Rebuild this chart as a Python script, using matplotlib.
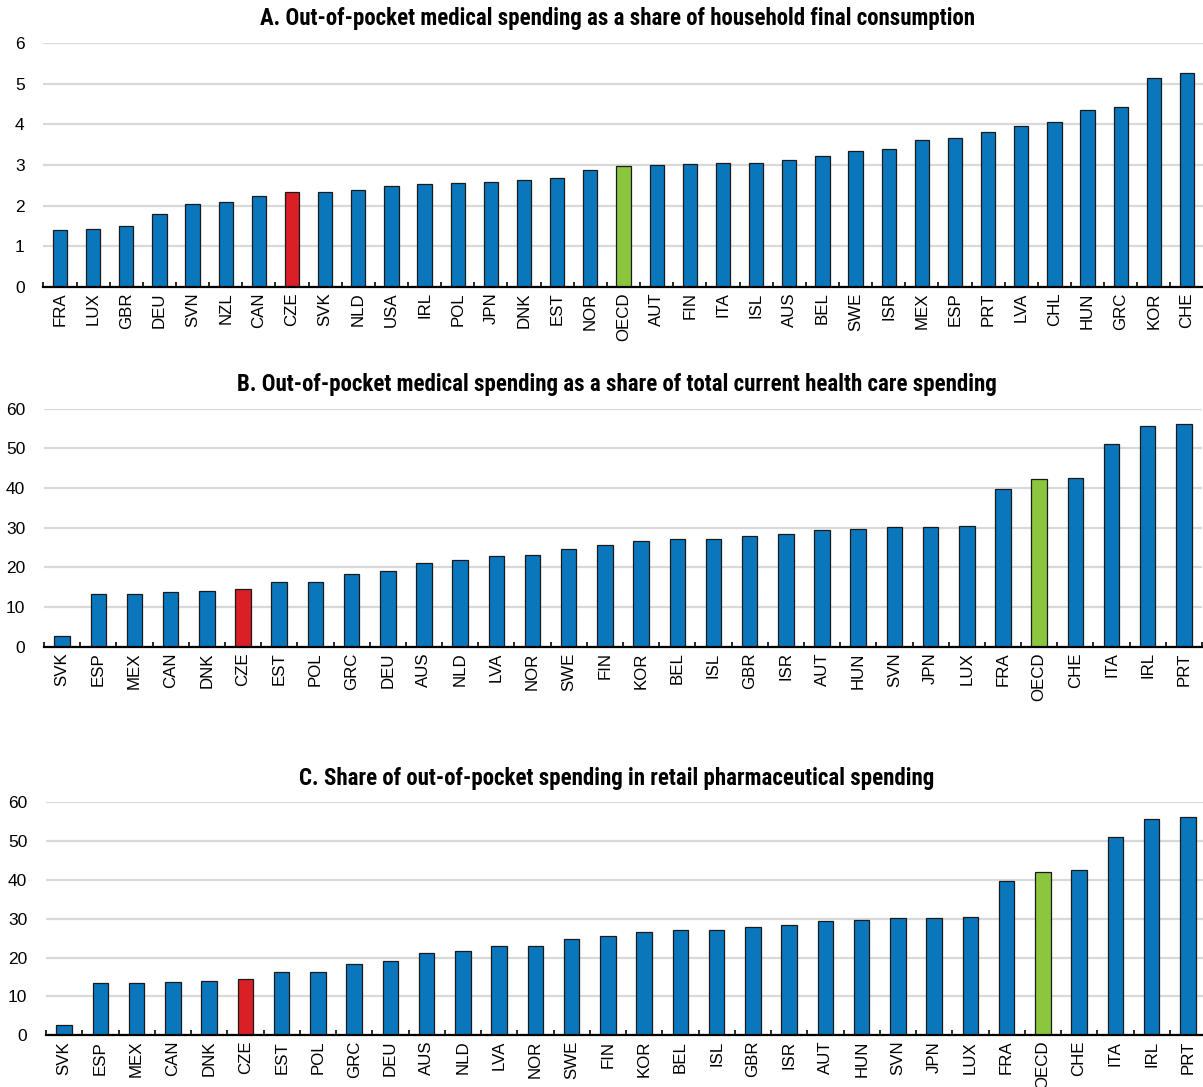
import matplotlib
matplotlib.use("Agg")
import matplotlib.pyplot as plt
from matplotlib import font_manager

# Panel titles use a condensed bold face; axis labels use a plain sans
entries = font_manager.fontManager.ttflist
narrow_family, narrow_stretch = None, "normal"
for want in ("Liberation Sans Narrow", "Arial Narrow", "Roboto Condensed",
             "Open Sans Condensed", "Noto Sans Condensed"):
    if any(f.name == want for f in entries):
        narrow_family = want
        break
if narrow_family is None:
    for f in entries:
        if ("Narrow" in f.name or "Condensed" in f.name) and "Mono" not in f.name \
                and "Serif" not in f.name:
            narrow_family = f.name
            break
if narrow_family is None:
    for f in entries:
        st = f.stretch
        if isinstance(st, str) and "condensed" in st and "Mono" not in f.name \
                and "Serif" not in f.name:
            narrow_family, narrow_stretch = f.name, st
            break
TITLE_SIZE = 16.5
if narrow_family is None:
    narrow_family = "Liberation Sans"
    TITLE_SIZE = 13.5
plt.rcParams["font.family"] = ["Liberation Sans", "DejaVu Sans"]

# Panel A: out-of-pocket medical spending, % of household final consumption
countries_a = ["FRA", "LUX", "GBR", "DEU", "SVN", "NZL", "CAN", "CZE", "SVK", "NLD",
               "USA", "IRL", "POL", "JPN", "DNK", "EST", "NOR", "OECD", "AUT", "FIN",
               "ITA", "ISL", "AUS", "BEL", "SWE", "ISR", "MEX", "ESP", "PRT", "LVA",
               "CHL", "HUN", "GRC", "KOR", "CHE"]
values_a = [1.41, 1.43, 1.50, 1.80, 2.03, 2.10, 2.24, 2.33, 2.34, 2.38,
            2.48, 2.52, 2.55, 2.57, 2.63, 2.67, 2.87, 2.98, 2.99, 3.02,
            3.05, 3.06, 3.12, 3.22, 3.34, 3.39, 3.61, 3.66, 3.81, 3.95,
            4.05, 4.35, 4.42, 5.15, 5.28]

# Panel B: out-of-pocket medical spending, % of current health care spending
countries_b = ["SVK", "ESP", "MEX", "CAN", "DNK", "CZE", "EST", "POL", "GRC", "DEU",
               "AUS", "NLD", "LVA", "NOR", "SWE", "FIN", "KOR", "BEL", "ISL", "GBR",
               "ISR", "AUT", "HUN", "SVN", "JPN", "LUX", "FRA", "OECD", "CHE", "ITA",
               "IRL", "PRT"]
values_b = [2.7, 13.4, 13.4, 13.8, 14.0, 14.5, 16.2, 16.3, 18.3, 19.2,
            21.2, 21.8, 22.9, 23.0, 24.7, 25.6, 26.7, 27.2, 27.2, 27.8,
            28.5, 29.4, 29.7, 30.2, 30.3, 30.4, 39.7, 42.2, 42.6, 51.1,
            55.6, 56.1]

# Panel C: out-of-pocket share of retail pharmaceutical spending
countries_c = ["SVK", "ESP", "MEX", "CAN", "DNK", "CZE", "EST", "POL", "GRC", "DEU",
               "AUS", "NLD", "LVA", "NOR", "SWE", "FIN", "KOR", "BEL", "ISL", "GBR",
               "ISR", "AUT", "HUN", "SVN", "JPN", "LUX", "FRA", "OECD", "CHE", "ITA",
               "IRL", "PRT"]
values_c = [2.7, 13.4, 13.4, 13.8, 14.0, 14.5, 16.2, 16.3, 18.3, 19.2,
            21.2, 21.8, 22.9, 23.0, 24.7, 25.6, 26.7, 27.2, 27.2, 27.8,
            28.5, 29.4, 29.7, 30.2, 30.3, 30.4, 39.7, 42.1, 42.6, 51.1,
            55.6, 56.1]

titles = ["A. Out-of-pocket medical spending as a share of household final consumption",
          "B. Out-of-pocket medical spending as a share of total current health care spending",
          "C. Share of out-of-pocket spending in retail pharmaceutical spending"]
yticks_a = [0, 1, 2, 3, 4, 5, 6]
yticks_bc = [0, 10, 20, 30, 40, 50, 60]

BLUE = "#0A77BD"
RED = "#DA1F27"
GREEN = "#8CC63F"
GRID = "#D9D9D9"


def bar_colors(names):
    cols = []
    for n in names:
        if n == "CZE":
            cols.append(RED)
        elif n == "OECD":
            cols.append(GREEN)
        else:
            cols.append(BLUE)
    return cols


W, H = 1203, 1087
fig = plt.figure(figsize=(W / 100, H / 100), dpi=100)

# (left, top, right, bottom) in pixels
boxes = [(43.4, 43.3, 1203.6, 286.7),
         (44.0, 408.7, 1202.0, 646.7),
         (46.0, 802.3, 1206.0, 1035.3)]
title_y = [19, 385, 779]

panels = [(countries_a, values_a, yticks_a),
          (countries_b, values_b, yticks_bc),
          (countries_c, values_c, yticks_bc)]

for (names, vals, yt), (l, t, r, b), ty, title in zip(panels, boxes, title_y, titles):
    ax = fig.add_axes([l / W, 1 - b / H, (r - l) / W, (b - t) / H])
    n = len(names)
    x = list(range(n))
    ax.bar(x, vals, width=0.43, color=bar_colors(names), edgecolor="#1a1a1a",
           linewidth=0.9, zorder=3)
    ax.set_xlim(-0.5, n - 0.5)
    ax.set_ylim(yt[0], yt[-1])
    ax.set_yticks(yt)
    ax.set_yticklabels([str(v) for v in yt], fontsize=12.5)
    ax.tick_params(axis="y", length=0, pad=13.5)
    ax.set_xticks(x)
    ax.set_xticklabels(names, rotation=90, fontsize=12.2, va="top", ha="center")
    ax.tick_params(axis="x", which="major", length=0, pad=4.0)
    ax.set_xticks([i - 0.5 for i in range(n + 1)], minor=True)
    ax.tick_params(axis="x", which="minor", direction="in", length=3.6, width=1.2,
                   color="black")
    ax.grid(axis="y", color=GRID, linewidth=1.6, zorder=0)
    ax.set_axisbelow(True)
    for s in ("left", "right", "top"):
        ax.spines[s].set_visible(False)
    ax.spines["bottom"].set_linewidth(1.6)
    ax.spines["bottom"].set_zorder(4)
    fig.text(617 / W, 1 - ty / H, title, ha="center", va="center",
             fontsize=TITLE_SIZE, fontweight="bold",
             family=[narrow_family, "DejaVu Sans"], stretch=narrow_stretch)

fig.savefig("out.png", dpi=100)
